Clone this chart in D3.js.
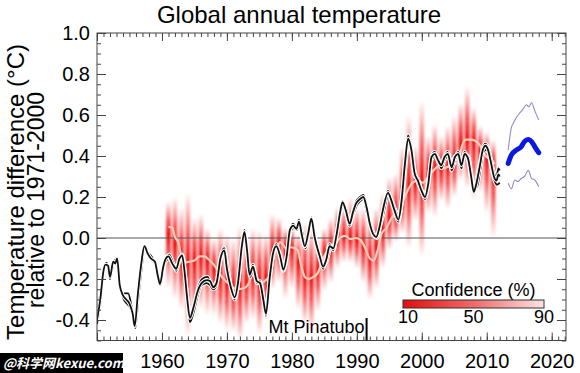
<!DOCTYPE html>
<html><head><meta charset="utf-8">
<script src="https://cdn.jsdelivr.net/npm/d3@7"></script>
<style>
html,body{margin:0;padding:0;background:#fff;}
svg{display:block;font-family:"Liberation Sans",Arial,Helvetica,sans-serif;}
</style></head>
<body>
<svg id="chart" width="580" height="373"></svg>
<script>
// ---------------- DATA ----------------
const titleText = "Global annual temperature";
const yLabelLine1 = "Temperature difference (\u00B0C)";
const yLabelLine2 = "relative to 1971-2000";
const xTicks = [1950, 1960, 1970, 1980, 1990, 2000, 2010, 2020];
const yTicks = [-0.4, -0.2, 0.0, 0.2, 0.4, 0.6, 0.8, 1.0];
const legendTitle = "Confidence (%)";
const legendTicks = [10, 50, 90];
const eventLabel = "Mt Pinatubo";
const eventYear = 1991.5;

// observational datasets [year, anomaly]
const obsA = [[1950.0,-0.40],[1950.5,-0.30],[1951.0,-0.16],[1951.3,-0.13],[1951.7,-0.135],[1952.0,-0.19],[1952.5,-0.115],[1952.8,-0.125],[1953.1,-0.10],[1953.5,-0.23],[1954.0,-0.28],[1954.5,-0.30],[1955.0,-0.32],[1955.5,-0.37],[1955.8,-0.43],[1956.3,-0.27],[1956.8,-0.13],[1957.3,-0.04],[1957.8,-0.075],[1958.3,-0.10],[1958.9,-0.115],[1959.4,-0.19],[1959.7,-0.225],[1960.2,-0.14],[1960.6,-0.10],[1961.0,-0.09],[1961.6,-0.125],[1962.2,-0.15],[1962.7,-0.10],[1963.1,-0.085],[1963.5,-0.17],[1963.9,-0.30],[1964.3,-0.39],[1964.8,-0.345],[1965.5,-0.26],[1966.1,-0.22],[1966.9,-0.205],[1967.4,-0.21],[1967.9,-0.24],[1968.4,-0.22],[1969.0,-0.10],[1969.6,-0.06],[1970.0,-0.15],[1970.6,-0.24],[1971.2,-0.29],[1971.7,-0.22],[1972.3,-0.04],[1972.7,0.03],[1973.1,-0.06],[1973.5,-0.18],[1974.0,-0.14],[1974.6,-0.21],[1975.1,-0.22],[1975.6,-0.30],[1976.0,-0.37],[1976.6,-0.19],[1977.1,-0.075],[1977.6,-0.04],[1978.2,-0.09],[1978.7,-0.155],[1979.2,-0.09],[1979.7,0.04],[1980.2,0.06],[1980.7,0.045],[1981.1,0.08],[1981.5,0.02],[1982.0,-0.04],[1982.5,0.02],[1983.0,0.095],[1983.5,0.005],[1984.3,-0.09],[1984.8,-0.14],[1985.3,-0.105],[1985.8,-0.04],[1986.4,-0.05],[1986.9,0.02],[1987.4,0.12],[1987.8,0.175],[1988.3,0.135],[1988.9,0.07],[1989.4,0.125],[1989.9,0.17],[1990.5,0.19],[1991.0,0.20],[1991.5,0.15],[1992.0,0.07],[1992.5,0.02],[1993.0,0.005],[1993.5,0.055],[1994.0,0.135],[1994.8,0.22],[1995.3,0.185],[1995.8,0.135],[1996.4,0.09],[1996.9,0.185],[1997.4,0.36],[1997.9,0.485],[1998.4,0.43],[1998.9,0.315],[1999.4,0.28],[1999.9,0.235],[2000.5,0.20],[2001.0,0.265],[2001.5,0.395],[2002.0,0.41],[2002.5,0.38],[2003.0,0.355],[2003.5,0.395],[2004.0,0.41],[2004.6,0.345],[2005.1,0.395],[2005.6,0.41],[2006.1,0.355],[2006.6,0.41],[2007.1,0.39],[2007.6,0.30],[2008.0,0.225],[2008.4,0.265],[2008.9,0.345],[2009.4,0.43],[2009.8,0.45],[2010.2,0.43],[2010.7,0.36],[2011.1,0.30],[2011.5,0.28],[2011.8,0.31],[2012.0,0.30]];
const obsB = [[1950.0,-0.38],[1950.6,-0.25],[1951.2,-0.14],[1951.8,-0.15],[1952.1,-0.18],[1952.6,-0.12],[1953.1,-0.11],[1953.6,-0.24],[1954.2,-0.27],[1954.8,-0.27],[1955.3,-0.33],[1955.8,-0.41],[1956.4,-0.25],[1956.9,-0.12],[1957.3,-0.05],[1957.9,-0.08],[1958.5,-0.11],[1959.0,-0.13],[1959.6,-0.22],[1960.2,-0.15],[1960.7,-0.09],[1961.2,-0.10],[1961.8,-0.13],[1962.3,-0.14],[1962.8,-0.09],[1963.2,-0.09],[1963.6,-0.20],[1964.0,-0.32],[1964.4,-0.38],[1965.0,-0.32],[1965.6,-0.24],[1966.2,-0.20],[1967.0,-0.19],[1967.5,-0.22],[1968.0,-0.23],[1968.5,-0.20],[1969.1,-0.08],[1969.6,-0.05],[1970.1,-0.14],[1970.7,-0.25],[1971.2,-0.28],[1971.8,-0.20],[1972.3,-0.03],[1972.7,0.02],[1973.1,-0.05],[1973.6,-0.19],[1974.1,-0.15],[1974.6,-0.20],[1975.2,-0.23],[1975.7,-0.31],[1976.1,-0.35],[1976.7,-0.17],[1977.2,-0.07],[1977.7,-0.05],[1978.2,-0.08],[1978.7,-0.14],[1979.3,-0.07],[1979.8,0.03],[1980.3,0.05],[1980.8,0.04],[1981.2,0.07],[1981.6,0.03],[1982.1,-0.05],[1982.6,0.03],[1983.1,0.09],[1983.6,0.00],[1984.3,-0.08],[1984.9,-0.13],[1985.4,-0.11],[1985.9,-0.05],[1986.4,-0.04],[1986.9,0.03],[1987.4,0.11],[1987.9,0.16],[1988.4,0.14],[1988.9,0.08],[1989.5,0.12],[1990.0,0.16],[1990.5,0.18],[1991.0,0.19],[1991.5,0.13],[1992.1,0.06],[1992.6,0.01],[1993.1,0.00],[1993.6,0.06],[1994.1,0.12],[1994.8,0.20],[1995.3,0.19],[1995.9,0.14],[1996.5,0.10],[1997.0,0.19],[1997.5,0.35],[1997.9,0.46],[1998.4,0.44],[1998.9,0.33],[1999.5,0.26],[2000.0,0.23],[2000.5,0.21],[2001.0,0.28],[2001.5,0.38],[2002.0,0.40],[2002.5,0.39],[2003.0,0.34],[2003.5,0.38],[2004.1,0.40],[2004.6,0.33],[2005.1,0.38],[2005.6,0.42],[2006.1,0.37],[2006.6,0.40],[2007.1,0.40],[2007.6,0.32],[2008.0,0.24],[2008.5,0.25],[2009.0,0.33],[2009.5,0.42],[2009.9,0.43],[2010.3,0.41],[2010.8,0.33],[2011.2,0.28],[2011.6,0.26],[2012.0,0.27]];
const obsC = [[1950.0,-0.42],[1950.5,-0.32],[1951.0,-0.17],[1951.5,-0.12],[1952.0,-0.20],[1952.5,-0.13],[1953.0,-0.10],[1953.5,-0.22],[1954.0,-0.29],[1954.6,-0.32],[1955.1,-0.34],[1955.6,-0.39],[1955.9,-0.44],[1956.4,-0.28],[1956.9,-0.14],[1957.3,-0.045],[1957.8,-0.07],[1958.4,-0.09],[1958.9,-0.12],[1959.5,-0.20],[1959.8,-0.23],[1960.3,-0.13],[1960.7,-0.11],[1961.1,-0.08],[1961.7,-0.12],[1962.2,-0.16],[1962.7,-0.11],[1963.1,-0.08],[1963.5,-0.16],[1963.9,-0.29],[1964.3,-0.41],[1964.9,-0.36],[1965.5,-0.28],[1966.1,-0.23],[1966.9,-0.22],[1967.4,-0.23],[1967.9,-0.25],[1968.4,-0.23],[1969.0,-0.11],[1969.6,-0.07],[1970.0,-0.16],[1970.6,-0.23],[1971.2,-0.30],[1971.7,-0.23],[1972.3,-0.05],[1972.7,0.04],[1973.1,-0.07],[1973.5,-0.17],[1974.0,-0.13],[1974.6,-0.22],[1975.1,-0.21],[1975.6,-0.29],[1976.0,-0.38],[1976.6,-0.20],[1977.1,-0.08],[1977.6,-0.03],[1978.2,-0.10],[1978.7,-0.16],[1979.2,-0.10],[1979.7,0.03],[1980.2,0.07],[1980.7,0.05],[1981.1,0.09],[1981.5,0.01],[1982.0,-0.03],[1982.5,0.01],[1983.0,0.10],[1983.5,0.01],[1984.3,-0.10],[1984.8,-0.15],[1985.3,-0.10],[1985.8,-0.03],[1986.4,-0.06],[1986.9,0.01],[1987.4,0.13],[1987.8,0.18],[1988.3,0.13],[1988.9,0.06],[1989.4,0.13],[1989.9,0.18],[1990.5,0.20],[1991.0,0.21],[1991.5,0.16],[1992.0,0.08],[1992.5,0.03],[1993.0,0.01],[1993.5,0.05],[1994.0,0.14],[1994.8,0.23],[1995.3,0.18],[1995.8,0.13],[1996.4,0.08],[1996.9,0.18],[1997.4,0.37],[1997.9,0.50],[1998.4,0.42],[1998.9,0.30],[1999.4,0.29],[1999.9,0.24],[2000.5,0.19],[2001.0,0.25],[2001.5,0.40],[2002.0,0.42],[2002.5,0.37],[2003.0,0.36],[2003.5,0.40],[2004.0,0.42],[2004.6,0.35],[2005.1,0.40],[2005.6,0.40],[2006.1,0.34],[2006.6,0.42],[2007.1,0.38],[2007.6,0.29],[2008.0,0.22],[2008.4,0.28],[2008.9,0.36],[2009.4,0.44],[2009.8,0.46],[2010.2,0.44],[2010.7,0.38],[2011.1,0.32],[2011.5,0.30],[2011.8,0.34],[2012.0,0.33]];

// hindcast ensemble median [year, anomaly]
const hindcastMedian = [[1961.0,0.055],[1961.6,0.05],[1962.0,0.005],[1962.5,-0.02],[1963.0,-0.09],[1963.5,-0.12],[1964.2,-0.115],[1965.0,-0.11],[1965.8,-0.09],[1966.6,-0.09],[1967.2,-0.105],[1967.7,-0.12],[1968.2,-0.14],[1968.7,-0.165],[1969.2,-0.19],[1969.8,-0.21],[1970.6,-0.23],[1971.5,-0.25],[1972.6,-0.245],[1973.4,-0.22],[1974.0,-0.16],[1974.6,-0.2],[1975.2,-0.22],[1976.0,-0.205],[1976.6,-0.18],[1977.1,-0.11],[1977.6,-0.06],[1978.2,-0.02],[1978.7,-0.035],[1979.3,-0.06],[1979.8,-0.045],[1980.4,-0.05],[1980.9,-0.06],[1981.4,-0.13],[1982.0,-0.19],[1982.6,-0.2],[1983.3,-0.19],[1984.0,-0.17],[1984.6,-0.12],[1985.3,-0.07],[1986.0,-0.06],[1986.7,-0.03],[1987.4,0.0],[1988.2,0.01],[1989.0,-0.005],[1989.8,0.0],[1990.6,-0.01],[1991.3,-0.05],[1992.0,-0.1],[1992.6,-0.11],[1993.2,-0.06],[1993.8,0.02],[1994.6,0.05],[1995.4,0.1],[1996.2,0.12],[1997.0,0.17],[1997.8,0.23],[1998.6,0.27],[1999.4,0.28],[2000.2,0.27],[2001.0,0.3],[2001.8,0.33],[2002.6,0.35],[2003.4,0.34],[2004.2,0.35],[2005.0,0.36],[2005.6,0.37],[2006.2,0.45],[2006.8,0.48],[2007.6,0.48],[2008.4,0.47],[2009.0,0.45],[2009.6,0.41],[2010.2,0.39],[2010.8,0.38],[2011.2,0.36]];

// hindcast confidence spread per year
const shadeYears = [1961,1962,1963,1964,1965,1966,1967,1968,1969,1970,1971,1972,1973,1974,1975,1976,1977,1978,1979,1980,1981,1982,1983,1984,1985,1986,1987,1988,1989,1990,1991,1992,1993,1994,1995,1996,1997,1998,1999,2000,2001,2002,2003,2004,2005,2006,2007,2008,2009,2010,2011];
const shadeHigh = [0.18,0.20,0.15,0.22,0.10,0.12,0.05,0.00,0.05,0.02,0.00,0.06,0.00,0.05,0.04,0.02,0.12,0.10,0.05,0.06,0.02,0.08,0.05,0.00,0.05,0.10,0.15,0.16,0.20,0.15,0.15,0.10,0.15,0.22,0.30,0.32,0.45,0.60,0.45,0.67,0.50,0.56,0.50,0.55,0.60,0.66,0.74,0.64,0.55,0.52,0.48];
const shadeLow = [-0.25,-0.30,-0.35,-0.48,-0.40,-0.35,-0.38,-0.38,-0.42,-0.45,-0.46,-0.50,-0.42,-0.40,-0.47,-0.40,-0.25,-0.22,-0.30,-0.25,-0.35,-0.42,-0.46,-0.36,-0.26,-0.22,-0.15,-0.12,-0.12,-0.15,-0.22,-0.30,-0.25,-0.15,-0.06,-0.02,0.02,-0.05,0.08,-0.09,0.12,0.10,0.18,0.14,0.20,0.28,0.24,0.18,0.22,0.12,0.00];
const shadeMid = [0.02,-0.03,-0.10,-0.12,-0.11,-0.09,-0.11,-0.15,-0.19,-0.22,-0.25,-0.24,-0.21,-0.18,-0.21,-0.19,-0.08,-0.03,-0.05,-0.05,-0.12,-0.19,-0.19,-0.15,-0.07,-0.05,0.00,0.01,0.00,-0.01,-0.04,-0.10,-0.04,0.04,0.10,0.12,0.19,0.25,0.27,0.28,0.31,0.34,0.34,0.35,0.37,0.46,0.48,0.47,0.42,0.39,0.35];

// forecast
const forecastMean = [[2013.3,0.364],[2013.8,0.405],[2014.6,0.43],[2015.3,0.445],[2015.8,0.47],[2016.4,0.48],[2016.9,0.47],[2017.4,0.445],[2018.0,0.416]];
const forecastUpper = [[2013.3,0.43],[2013.8,0.54],[2014.1,0.56],[2014.6,0.59],[2015.1,0.61],[2015.6,0.63],[2016.1,0.65],[2016.5,0.64],[2016.9,0.66],[2017.4,0.62],[2018.0,0.576]];
const forecastLower = [[2013.3,0.267],[2013.8,0.24],[2014.3,0.283],[2014.8,0.275],[2015.3,0.29],[2015.8,0.30],[2016.4,0.33],[2016.9,0.29],[2017.4,0.283],[2018.0,0.25]];

// ---------------- DRAW ----------------
const svg = d3.select("#chart");
const L = 97, R = 566, T = 33, B = 340.5;
const x = d3.scaleLinear().domain([1950, 2022.2]).range([L, R]);
const y = d3.scaleLinear().domain([-0.5, 1.0]).range([B, T]);
const font = '"Liberation Sans", Arial, Helvetica, sans-serif';

const defs = svg.append("defs");
defs.append("clipPath").attr("id","plotclip").append("rect")
  .attr("x",L).attr("y",T).attr("width",R-L).attr("height",B-T);
const blur = defs.append("filter").attr("id","soft").attr("x","-50%").attr("width","200%").attr("y","-10%").attr("height","120%");
blur.append("feGaussianBlur").attr("stdDeviation","1.1 0.8");

// title
svg.append("text").attr("x", 299).attr("y", 23).attr("text-anchor","middle")
  .style("font-family",font).style("font-size","24px").attr("fill","#000").text(titleText);

// shading
const plot = svg.append("g").attr("clip-path","url(#plotclip)");
const shadeG = plot.append("g").attr("filter","url(#soft)");
shadeYears.forEach((yr,i)=>{
  const yt = y(shadeHigh[i]), yb = y(shadeLow[i]), ym = y(shadeMid[i]);
  const m = (ym-yt)/(yb-yt);
  const gid = "sg"+i;
  const g = defs.append("linearGradient").attr("id",gid).attr("x1",0).attr("y1",0).attr("x2",0).attr("y2",1);
  [[0,0],[m*0.35,0.35],[m*0.7,0.75],[m,1],[m+(1-m)*0.3,0.75],[m+(1-m)*0.65,0.35],[1,0]].forEach(s=>{
    g.append("stop").attr("offset",s[0]).attr("stop-color","#f00a0a").attr("stop-opacity",s[1]);
  });
  shadeG.append("rect").attr("x",x(yr-0.36)).attr("width",x(yr+0.36)-x(yr-0.36))
    .attr("y",yt).attr("height",yb-yt).attr("fill","url(#"+gid+")");
});

// zero line
plot.append("line").attr("x1",L).attr("x2",R).attr("y1",y(0)).attr("y2",y(0))
  .attr("stroke","#555").attr("stroke-width",1);

const line = d3.line().x(d=>x(d[0])).y(d=>y(d[1])).curve(d3.curveMonotoneX);

// hindcast median
plot.append("path").datum(hindcastMedian).attr("d",line).attr("fill","none")
  .attr("stroke","#f7cdb8").attr("stroke-width",2.2);

// observations
[obsB, obsC, obsA].forEach(s=>{
  plot.append("path").datum(s).attr("d",line).attr("fill","none")
    .attr("stroke","#fff").attr("stroke-width",3.8).attr("stroke-linejoin","round");
  plot.append("path").datum(s).attr("d",line).attr("fill","none")
    .attr("stroke","#111").attr("stroke-width",1.8).attr("stroke-linejoin","round");
});

// forecast
[forecastUpper, forecastLower].forEach(s=>{
  plot.append("path").datum(s).attr("d",line).attr("fill","none")
    .attr("stroke","#8c8cd0").attr("stroke-width",1.1);
});
plot.append("path").datum(forecastMean).attr("d",line).attr("fill","none")
  .attr("stroke","#0a18e0").attr("stroke-width",5).attr("stroke-linecap","round");

// axes ticks
const decades = d3.range(1950, 2023, 10);
const years = d3.range(1950, 2023, 1);
const minorY = d3.range(-0.5, 1.0001, 0.05);
function styleAxis(g){ g.select(".domain").remove(); g.selectAll("line").attr("stroke","#444"); }

svg.append("g").attr("transform",`translate(0,${B})`)
  .call(d3.axisBottom(x).tickValues(years).tickSize(-4).tickFormat("")).call(styleAxis);
svg.append("g").attr("transform",`translate(0,${T})`)
  .call(d3.axisTop(x).tickValues(years).tickSize(-4).tickFormat("")).call(styleAxis);
svg.append("g").attr("transform",`translate(0,${T})`)
  .call(d3.axisTop(x).tickValues(decades).tickSize(-8).tickFormat("")).call(styleAxis);
const xa = svg.append("g").attr("transform",`translate(0,${B})`)
  .call(d3.axisBottom(x).tickValues(xTicks).tickSize(-8).tickPadding(13).tickFormat(d3.format("d")));
xa.call(styleAxis);
xa.selectAll("text").style("font-family",font).style("font-size","20px").attr("fill","#000");

svg.append("g").attr("transform",`translate(${L},0)`)
  .call(d3.axisLeft(y).tickValues(minorY).tickSize(-4).tickFormat("")).call(styleAxis);
svg.append("g").attr("transform",`translate(${R},0)`)
  .call(d3.axisRight(y).tickValues(minorY).tickSize(-4).tickFormat("")).call(styleAxis);
svg.append("g").attr("transform",`translate(${R},0)`)
  .call(d3.axisRight(y).tickValues(yTicks).tickSize(-9).tickFormat("")).call(styleAxis);
const ya = svg.append("g").attr("transform",`translate(${L},0)`)
  .call(d3.axisLeft(y).tickValues(yTicks).tickSize(-9).tickPadding(7).tickFormat(d=>d.toFixed(1)));
ya.call(styleAxis);
ya.selectAll("text").style("font-family",font).style("font-size","20px").attr("fill","#000");

// frame
svg.append("rect").attr("x",L).attr("y",T).attr("width",R-L).attr("height",B-T)
  .attr("fill","none").attr("stroke","#444").attr("stroke-width",1);

// y label
const yl = svg.append("g").attr("transform","translate(0,192) rotate(-90)");
yl.append("text").attr("x",0).attr("y",24).attr("text-anchor","middle")
  .style("font-family",font).style("font-size","24px").text(yLabelLine1);
yl.append("text").attr("x",-8).attr("y",44).attr("text-anchor","middle")
  .style("font-family",font).style("font-size","23px").text(yLabelLine2);

// Mt Pinatubo marker
svg.append("line").attr("x1",x(eventYear)).attr("x2",x(eventYear)).attr("y1",318).attr("y2",B)
  .attr("stroke","#000").attr("stroke-width",2);
svg.append("text").attr("x",x(eventYear)-2).attr("y",333).attr("text-anchor","end")
  .style("font-family",font).style("font-size","18px").text(eventLabel);

// legend
const lg = defs.append("linearGradient").attr("id","legGrad");
lg.append("stop").attr("offset",0).attr("stop-color","#e60e0e");
lg.append("stop").attr("offset",0.5).attr("stop-color","#f06a6a");
lg.append("stop").attr("offset",1).attr("stop-color","#fbe4e4");
const lx = d3.scaleLinear().domain([10,90]).range([403,544]);
svg.append("text").attr("x",(lx(10)+lx(90))/2).attr("y",296).attr("text-anchor","middle")
  .style("font-family",font).style("font-size","18px").text(legendTitle);
svg.append("rect").attr("x",lx(10)).attr("y",300).attr("width",lx(90)-lx(10)).attr("height",8)
  .attr("fill","url(#legGrad)").attr("stroke","#333").attr("stroke-width",1);
svg.selectAll(".legt").data(legendTicks).enter().append("text")
  .attr("x",d=>lx(d)+(d===10?5:0)).attr("y",323).attr("text-anchor","middle")
  .style("font-family",font).style("font-size","18px").text(d=>d);

// watermark
svg.append("rect").attr("x",0).attr("y",353).attr("width",123).attr("height",20).attr("fill","#000");
svg.append("text").attr("x",3).attr("y",368)
  .style("font-family",'"Noto Sans CJK SC", "Noto Sans", sans-serif').style("font-size","13px")
  .style("font-weight","bold").style("font-style","italic").attr("fill","#fff").text("@科学网kexue.com");
</script>
</body></html>
